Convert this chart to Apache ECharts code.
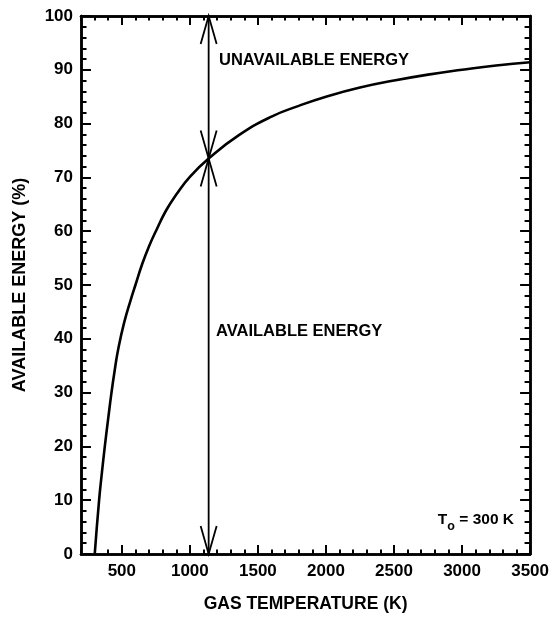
<!DOCTYPE html>
<html><head><meta charset="utf-8">
<script src="https://cdn.jsdelivr.net/npm/echarts@6/dist/echarts.min.js"></script>
<style>html,body{margin:0;padding:0;background:#fff}#c{width:552px;height:618px}</style>
</head><body><div id="c"></div>
<script>
// Curve: gas temperature (K) vs available energy (%)
const gasTemp = [301, 333, 354, 375, 400, 424, 448, 473, 517, 566, 600, 651, 700, 750, 824, 900, 1000, 1142, 1363, 1600, 1800, 2000, 2250, 2500, 2750, 3000, 3250, 3500];
const availEnergy = [0, 10, 15.2, 20, 25.2, 30, 34.2, 38, 43, 47.3, 50, 54, 57.2, 60, 63.8, 66.8, 70.1, 73.6, 77.9, 81.3, 83.3, 85, 86.7, 88, 89.1, 90, 90.8, 91.4];
// Arrow position (K) and intersection value (%)
const arrowTemp = 1138;
const arrowSplit = 73.5;
// Axis ticks
const xMajorTicks = [500, 1000, 1500, 2000, 2500, 3000, 3500];
const yMajorTicks = [0, 10, 20, 30, 40, 50, 60, 70, 80, 90, 100];
const xRange = [200, 3500];
const yRange = [0, 100];

const xMinor = []; for (let v = xRange[0]; v <= xRange[1]; v += 100) xMinor.push(v);
const yMinor = []; for (let v = yRange[0]; v <= yRange[1]; v += 2) yMinor.push(v);

const FONT = 'Liberation Sans';
const lineStyle = {color: '#000', width: 2.5};
const lblStyle = {color: '#000', fontFamily: FONT, fontWeight: 'bold', fontSize: 17, formatter: v => String(v)};

function xAxisDef(pos, ticks, len, labels, extra) {
  return Object.assign({
    type: 'value', position: pos, min: xRange[0], max: xRange[1],
    axisLine: {show: true, onZero: false, lineStyle: lineStyle},
    axisTick: {show: true, inside: true, length: len, customValues: ticks, lineStyle: {color: '#000', width: 2}},
    axisLabel: labels ? Object.assign({show: true, customValues: xMajorTicks, margin: 9}, lblStyle) : {show: false},
    splitLine: {show: false}
  }, extra || {});
}
function yAxisDef(pos, ticks, len, labels, extra) {
  return Object.assign({
    type: 'value', position: pos, min: yRange[0], max: yRange[1],
    axisLine: {show: true, onZero: false, lineStyle: lineStyle},
    axisTick: {show: true, inside: true, length: len, customValues: ticks, lineStyle: {color: '#000', width: 2}},
    axisLabel: labels ? Object.assign({show: true, customValues: yMajorTicks, margin: 8}, lblStyle) : {show: false},
    splitLine: {show: false}
  }, extra || {});
}

const chart = echarts.init(document.getElementById('c'));
chart.setOption({
  animation: false,
  backgroundColor: '#fff',
  grid: {left: 81, right: 21, top: 16, bottom: 63, containLabel: false},
  xAxis: [
    xAxisDef('bottom', xMajorTicks, 9, true, {
      name: 'GAS TEMPERATURE (K)', nameLocation: 'middle', nameGap: 41,
      nameTextStyle: {color: '#000', fontFamily: FONT, fontWeight: 'bold', fontSize: 17.5}
    }),
    xAxisDef('bottom', xMinor, 4.5, false),
    xAxisDef('top', xMajorTicks, 9, false),
    xAxisDef('top', xMinor, 4.5, false)
  ],
  yAxis: [
    yAxisDef('left', yMajorTicks, 10, true, {
      name: 'AVAILABLE ENERGY (%)', nameLocation: 'middle', nameGap: 52,
      nameTextStyle: {color: '#000', fontFamily: FONT, fontWeight: 'bold', fontSize: 18}
    }),
    yAxisDef('left', yMinor, 5.5, false),
    yAxisDef('right', yMajorTicks, 10, false),
    yAxisDef('right', yMinor, 5.5, false)
  ],
  series: [
    {
      type: 'line', xAxisIndex: 0, yAxisIndex: 0, smooth: 0.5, symbol: 'none',
      lineStyle: {color: '#000', width: 2.6},
      data: gasTemp.map((t, i) => [t, availEnergy[i]]),
      z: 5
    },
    {
      type: 'custom', xAxisIndex: 0, yAxisIndex: 0,
      data: [[arrowTemp, arrowSplit]],
      renderItem: function (params, api) {
        const top = api.coord([api.value(0), yRange[1]]);
        const mid = api.coord([api.value(0), api.value(1)]);
        const bot = api.coord([api.value(0), yRange[0]]);
        const L = 28, W = 8;
        const st = {stroke: '#000', lineWidth: 1.8, fill: null};
        const head = (p, dir) => ({
          type: 'polyline',
          shape: {points: [[p[0] - W, p[1] + dir * L], [p[0], p[1]], [p[0] + W, p[1] + dir * L]]},
          style: st
        });
        return {
          type: 'group',
          children: [
            {type: 'line', shape: {x1: top[0], y1: top[1], x2: bot[0], y2: bot[1]}, style: st},
            head(top, 1), head(mid, -1), head(mid, 1), head(bot, -1)
          ]
        };
      },
      z: 4
    }
  ],
  graphic: [
    {type: 'text', left: 219, top: 52, style: {text: 'UNAVAILABLE ENERGY', fill: '#000', font: 'bold 16.5px "Liberation Sans"'}},
    {type: 'text', left: 216, top: 323, style: {text: 'AVAILABLE ENERGY', fill: '#000', font: 'bold 16.5px "Liberation Sans"'}},
    {type: 'text', right: 38, top: 512, style: {
      text: '{a|T}{b|o}{a| = 300 K}',
      rich: {
        a: {fill: '#000', fontFamily: FONT, fontWeight: 'bold', fontSize: 15.5, verticalAlign: 'top', lineHeight: 17},
        b: {fill: '#000', fontFamily: FONT, fontWeight: 'bold', fontSize: 12.5, verticalAlign: 'top', lineHeight: 17, padding: [8, 0, 0, 0]}
      }
    }}
  ]
});
</script></body></html>
